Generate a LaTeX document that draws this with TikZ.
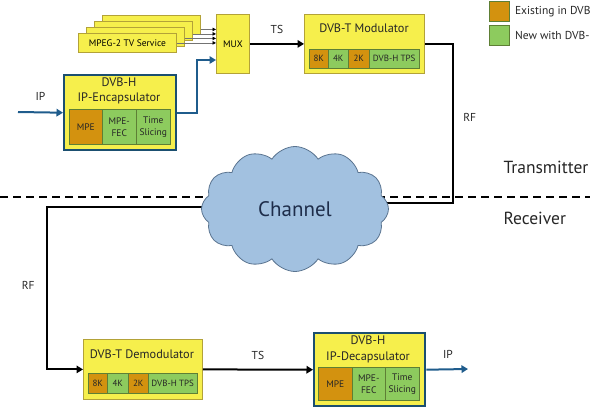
\documentclass[tikz,border=0pt]{standalone}
\usepackage{fontspec}
\setmainfont{PT Sans}
\usetikzlibrary{calc,arrows.meta,shapes.symbols,backgrounds}

\definecolor{dvbyellow}{HTML}{F6EF4C}
\definecolor{boxline}{HTML}{B3A238}
\definecolor{dvborange}{HTML}{D3920F}
\definecolor{dvbgreen}{HTML}{8DCB5E}
\definecolor{cellline}{HTML}{5E7F35}
\definecolor{ipblue}{HTML}{1F5C8C}
\definecolor{ipline}{HTML}{1B4F70}
\definecolor{cloudblue}{HTML}{A2C1E0}
\definecolor{cloudline}{HTML}{5A7490}
\definecolor{chantext}{HTML}{1E2D4A}

\begin{document}
\begin{tikzpicture}[x=1pt, y=-1pt,
    box/.style={draw=boxline, fill=dvbyellow, line width=0.8pt, anchor=north west, inner sep=0pt},
    ipbox/.style={box, draw=ipline, line width=2.4pt},
    svc/.style={box, minimum width=98pt, minimum height=19pt, font=\fontsize{9.5}{11}\selectfont},
    cell/.style={draw=cellline, line width=0.5pt, anchor=north west, inner sep=0pt, align=center,
      font=\fontsize{9}{10}\selectfont, text=black!85},
    oldcell/.style={cell, fill=dvborange},
    newcell/.style={cell, fill=dvbgreen},
    title/.style={font=\fontsize{12.3}{15.5}\selectfont, align=center, text=black!85},
    lbl/.style={font=\fontsize{11.5}{13}\selectfont, text=black!85},
    side/.style={font=\fontsize{17.5}{20}\selectfont, text=black!85, anchor=west},
    sig/.style={line width=2pt, -{Triangle[length=6.5pt,width=7.5pt]}},
    ipflow/.style={line width=2pt, draw=ipblue, -{Triangle[length=6.5pt,width=7.5pt]}},
    svcarr/.style={line width=0.7pt, draw=black!55, -{Triangle[length=3.5pt,width=3.5pt,black]}}]
  \useasboundingbox (0,0) rectangle (590,408);

  % transmitter
  \foreach \i in {3,2,1,0}
    \node[svc] (svc\i) at (78+8*\i, 33-6*\i) {MPEG-2 TV Service};
  \node[box, minimum width=33pt, minimum height=59pt, font=\fontsize{9.5}{11}\selectfont] (mux) at (216,14) {MUX};
  \foreach \i in {0,...,3} {
    \path ([yshift={-1.5pt*\i}]svc\i.east) coordinate (s\i);
    \draw[svcarr] (s\i) -- (s\i -| mux.west);
  }

  \node[box, minimum width=120pt, minimum height=59pt] (mod) at (304,14) {};
  \node[title] (modt) at (364,28) {DVB-T Modulator};
  \node[oldcell, minimum width=19pt, minimum height=19pt] (mod8k) at (309,49) {8K};
  \node[newcell, minimum width=20pt, minimum height=19pt] (mod4k) at (328,49) {4K};
  \node[oldcell, minimum width=21pt, minimum height=19pt] (mod2k) at (348,49) {2K};
  \node[newcell, minimum width=50pt, minimum height=19pt] (modtps) at (369,49) {DVB-H TPS};

  \node[ipbox, minimum width=112pt, minimum height=75pt] (enc) at (63,74) {};
  \node[title] (enct) at (119,91) {DVB-H\\IP-Encapsulator};
  \node[oldcell, minimum width=33pt, minimum height=35pt, font=\fontsize{9.5}{12}\selectfont] (encmpe) at (69,109) {MPE};
  \node[newcell, minimum width=34pt, minimum height=35pt, font=\fontsize{9.5}{12}\selectfont] (encfec) at (102,109) {MPE-\\FEC};
  \node[newcell, minimum width=34pt, minimum height=35pt, font=\fontsize{9.5}{12}\selectfont] (encts) at (136,109) {Time\\Slicing};

  \coordinate (ipin) at (18,112);
  \coordinate (muxin) at (216,60);
  \draw[ipflow] (ipin) -- node[lbl, above=8pt] {IP} (enc.west);
  \draw[ipflow] (enc.east) -- ++(20,0) |- (muxin);
  \draw[sig] (mux.east) -- node[lbl, above=6pt] {TS} (mod.west);

  % legend
  \node[oldcell, minimum width=20pt, minimum height=20pt] (oldkey) at (489,1) {};
  \node[newcell, minimum width=20pt, minimum height=20pt] (newkey) at (489,25) {};
  \node[lbl, anchor=west] at ([xshift=2pt]oldkey.east) {Existing in DVB};
  \node[lbl, anchor=west] at ([xshift=2pt]newkey.east) {New with DVB-};

  \node[side] (tx) at (500,167) {Transmitter};
  \node[side] (rx) at (500,218) {Receiver};

  % channel
  \node[cloud, cloud puffs=12, cloud puff arc=115, aspect=1.5, draw=cloudline, fill=cloudblue, line width=0.8pt,
    minimum width=187pt, minimum height=125pt, text=chantext, font=\fontsize{21}{24}\selectfont] (cloud) at (295,209) {Channel};

  % receiver
  \node[box, minimum width=119pt, minimum height=60pt] (demod) at (83,339) {};
  \node[title] (demodt) at (142,354) {DVB-T Demodulator};
  \node[oldcell, minimum width=19pt, minimum height=20pt] (dem8k) at (88,373) {8K};
  \node[newcell, minimum width=21pt, minimum height=20pt] (dem4k) at (107,373) {4K};
  \node[oldcell, minimum width=20pt, minimum height=20pt] (dem2k) at (128,373) {2K};
  \node[newcell, minimum width=49pt, minimum height=20pt] (demtps) at (148,373) {DVB-H TPS};

  \node[ipbox, minimum width=111pt, minimum height=73pt] (dec) at (313,332) {};
  \node[title] (dect) at (368,349.5) {DVB-H\\IP-Decapsulator};
  \node[oldcell, minimum width=34pt, minimum height=33pt, font=\fontsize{9.5}{12}\selectfont] (decmpe) at (318,367) {MPE};
  \node[newcell, minimum width=33pt, minimum height=33pt, font=\fontsize{9.5}{12}\selectfont] (decfec) at (352,367) {MPE-\\FEC};
  \node[newcell, minimum width=34pt, minimum height=33pt, font=\fontsize{9.5}{12}\selectfont] (dects) at (385,367) {Time\\Slicing};

  \coordinate (ipout) at (468,369);
  \draw[sig] (demod.east) -- node[lbl, above=6pt] {TS} (dec.west);
  \draw[ipflow] (dec.east) -- node[lbl, above=7pt, pos=0.52] {IP} (ipout);

  \coordinate (rftop) at (453,203);
  \coordinate (rfbot) at (47,207);
  \begin{scope}[on background layer]
    \draw[dashed, dash pattern=on 8pt off 5pt, line width=1.2pt] (0,197) -- (590,197);
    \draw[line width=2pt] (mod.east) -| node[lbl, pos=0.73, right=6pt] {RF} (rftop) -- (rftop -| cloud.center);
    \draw[sig] (rfbot -| cloud.center) -- (rfbot) |- node[lbl, pos=0.24, left=8pt] {RF} (demod.west);
  \end{scope}
\end{tikzpicture}
\end{document}
